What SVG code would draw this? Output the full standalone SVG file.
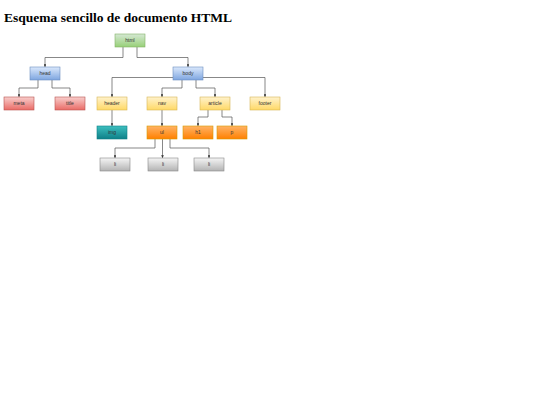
<svg xmlns="http://www.w3.org/2000/svg" width="540" height="405" viewBox="0 0 540 405">
<defs>
<linearGradient id="gG" x1="0" y1="0" x2="0" y2="1"><stop offset="0" stop-color="#d5e8d4"/><stop offset="1" stop-color="#97d077"/></linearGradient>
<linearGradient id="gB" x1="0" y1="0" x2="0" y2="1"><stop offset="0" stop-color="#dae8fc"/><stop offset="1" stop-color="#7ea6e0"/></linearGradient>
<linearGradient id="gR" x1="0" y1="0" x2="0" y2="1"><stop offset="0" stop-color="#f8cecc"/><stop offset="1" stop-color="#ea6b66"/></linearGradient>
<linearGradient id="gY" x1="0" y1="0" x2="0" y2="1"><stop offset="0" stop-color="#fff2cc"/><stop offset="1" stop-color="#ffd966"/></linearGradient>
<linearGradient id="gT" x1="0" y1="0" x2="0" y2="1"><stop offset="0" stop-color="#3dbfbf"/><stop offset="1" stop-color="#0e8088"/></linearGradient>
<linearGradient id="gO" x1="0" y1="0" x2="0" y2="1"><stop offset="0" stop-color="#ffb366"/><stop offset="1" stop-color="#ff8000"/></linearGradient>
<linearGradient id="gS" x1="0" y1="0" x2="0" y2="1"><stop offset="0" stop-color="#f5f5f5"/><stop offset="1" stop-color="#b3b3b3"/></linearGradient>
<marker id="arr" viewBox="0 0 6 6" refX="6" refY="3" markerWidth="4" markerHeight="4" orient="auto"><path d="M0,0 L6,3 L0,6 Z" fill="#333"/></marker>
</defs>
<style>
.t{font-family:"Liberation Sans",Arial,sans-serif;font-size:5px;fill:#333;text-anchor:middle}
.b{stroke-width:0.6}
.c{fill:none;stroke:#555;stroke-width:0.7;marker-end:url(#arr)}
.g{fill:url(#gG);stroke:#82b366}
.bl{fill:url(#gB);stroke:#6c8ebf}
.r{fill:url(#gR);stroke:#b85450}
.y{fill:url(#gY);stroke:#d6b656}
.tl{fill:url(#gT);stroke:#0e8088}
.o{fill:url(#gO);stroke:#d79b00}
.s{fill:url(#gS);stroke:#888}
</style>
<text x="4" y="22" font-family="Liberation Serif,'Times New Roman',serif" font-weight="bold" font-size="13.5" fill="#000">Esquema sencillo de documento HTML</text>
<g id="connectors">
<path class="c" d="M123,47 V57.5 H45 V67"/>
<path class="c" d="M137,47 V57.5 H188 V67"/>
<path class="c" d="M38,80 V88 H19 V97"/>
<path class="c" d="M52,80 V88 H70 V97"/>
<path class="c" d="M173,77.5 H112 V97"/>
<path class="c" d="M182,80 V88 H162 V97"/>
<path class="c" d="M196,80 V88 H215 V97"/>
<path class="c" d="M203,77.5 H265 V97"/>
<path class="c" d="M112,110 V126"/>
<path class="c" d="M162,110 V126"/>
<path class="c" d="M208,110 V117 H198 V126"/>
<path class="c" d="M222,110 V117 H232 V126"/>
<path class="c" d="M155,139 V148 H115 V158"/>
<path class="c" d="M162.5,139 V158"/>
<path class="c" d="M170,139 V148 H209 V158"/>
</g>
<g id="html"><rect class="g b" x="115" y="34" width="30" height="13"/><text class="t" x="130" y="42.2">html</text></g>
<g id="head"><rect class="bl b" x="30" y="67" width="30" height="13"/><text class="t" x="45" y="75.2">head</text></g>
<g id="body"><rect class="bl b" x="173" y="67" width="30" height="13"/><text class="t" x="188" y="75.2">body</text></g>
<g id="meta"><rect class="r b" x="4" y="97" width="30" height="13"/><text class="t" x="19" y="105.2">meta</text></g>
<g id="title"><rect class="r b" x="55" y="97" width="30" height="13"/><text class="t" x="70" y="105.2">title</text></g>
<g id="header"><rect class="y b" x="97" y="97" width="30" height="13"/><text class="t" x="112" y="105.2">header</text></g>
<g id="nav"><rect class="y b" x="147" y="97" width="30" height="13"/><text class="t" x="162" y="105.2">nav</text></g>
<g id="article"><rect class="y b" x="200" y="97" width="30" height="13"/><text class="t" x="215" y="105.2">article</text></g>
<g id="footer"><rect class="y b" x="250" y="97" width="30" height="13"/><text class="t" x="265" y="105.2">footer</text></g>
<g id="img"><rect class="tl b" x="97" y="126" width="30" height="13"/><text class="t" x="112" y="134.2">img</text></g>
<g id="ul"><rect class="o b" x="147" y="126" width="30" height="13"/><text class="t" x="162" y="134.2">ul</text></g>
<g id="h1"><rect class="o b" x="183" y="126" width="30" height="13"/><text class="t" x="198" y="134.2">h1</text></g>
<g id="p"><rect class="o b" x="217" y="126" width="30" height="13"/><text class="t" x="232" y="134.2">p</text></g>
<g id="li1"><rect class="s b" x="100" y="158" width="30" height="13"/><text class="t" x="115" y="166.2">li</text></g>
<g id="li2"><rect class="s b" x="148" y="158" width="30" height="13"/><text class="t" x="163" y="166.2">li</text></g>
<g id="li3"><rect class="s b" x="194" y="158" width="30" height="13"/><text class="t" x="209" y="166.2">li</text></g>
</svg>
